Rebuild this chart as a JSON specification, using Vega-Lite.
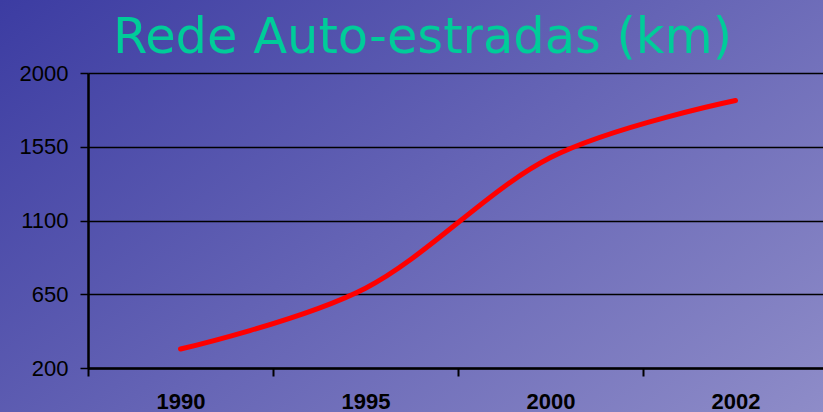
{
  "$schema": "https://vega.github.io/schema/vega-lite/v6.json",
  "width": 823,
  "height": 412,
  "autosize": {"type": "none"},
  "padding": 0,
  "title": {"text": "Rede Auto-estradas (km)", "color": "#00cc99", "font": "DejaVu Sans", "fontSize": 49.5, "fontWeight": "normal", "anchor": "middle", "frame": "group", "dx": 11, "dy": 47, "baseline": "alphabetic", "offset": -55},
  "data": {"values": [
    {"ano": "1990", "km": 316},
    {"ano": "1995", "km": 687},
    {"ano": "2000", "km": 1484},
    {"ano": "2002", "km": 1832}
  ]},
  "mark": {"type": "line", "color": "#ff0000", "strokeWidth": 5, "interpolate": "cardinal", "strokeCap": "round"},
  "encoding": {
    "x": {"field": "ano", "type": "ordinal", "scale": {"type": "band", "range": [88, 828], "paddingInner": 0, "paddingOuter": 0},
      "axis": {"title": null, "offset": -44, "labelAngle": 0, "tickBand": "extent", "tickSize": 8, "tickColor": "black", "tickWidth": 2, "domainColor": "black", "domainWidth": 2.5, "labelFont": "Liberation Sans", "labelFontWeight": "bold", "labelFontSize": 22, "labelColor": "black", "labelPadding": 15, "grid": false}},
    "y": {"field": "km", "type": "quantitative", "scale": {"domain": [200, 2000], "range": [368, 73], "nice": false, "zero": false},
      "axis": {"title": null, "offset": -88, "values": [200, 650, 1100, 1550, 2000], "format": "d", "grid": true, "gridColor": "black", "gridWidth": 1.5, "gridOpacity": 1, "tickSize": 8, "tickColor": "black", "tickWidth": 1.5, "domainColor": "black", "domainWidth": 2.5, "labelFont": "Liberation Sans", "labelFontSize": 22, "labelColor": "black", "labelPadding": 12}}
  },
  "config": {"view": {"stroke": null, "fill": {"gradient": "linear", "x1": 0, "y1": 0, "x2": 1.161, "y2": 0.751, "stops": [{"offset": 0, "color": "#3c3ca2"}, {"offset": 1, "color": "#8e8cc8"}]}}}
}
